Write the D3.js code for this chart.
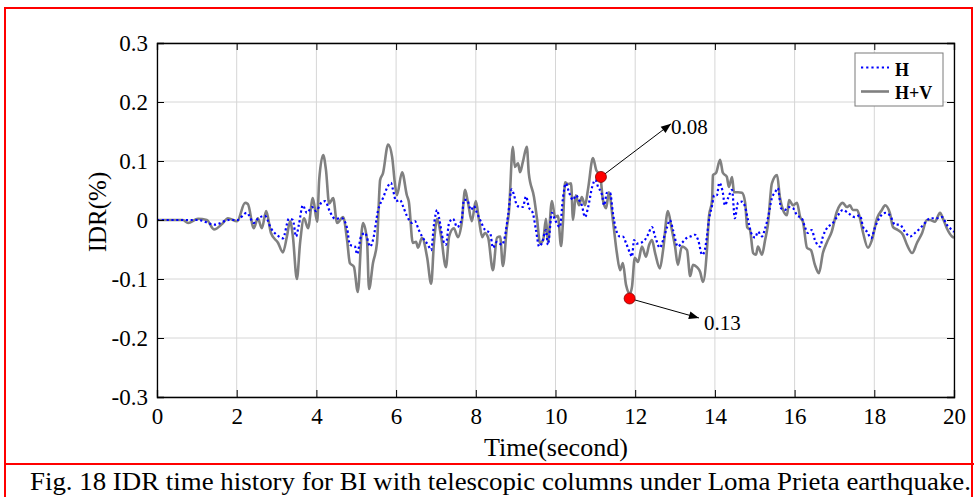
<!DOCTYPE html>
<html>
<head>
<meta charset="utf-8">
<script src="https://cdn.jsdelivr.net/npm/d3@7"></script>
<style>
  html, body { margin: 0; padding: 0; background: #fff; }
  svg { display: block; }
  text { font-family: "Liberation Serif", "Times New Roman", serif; fill: #000; }
</style>
</head>
<body>
<svg id="chart" width="974" height="497"></svg>
<script>
// ---------- data ----------
const xTicks = [0, 2, 4, 6, 8, 10, 12, 14, 16, 18, 20];
const yTicks = [-0.3, -0.2, -0.1, 0, 0.1, 0.2, 0.3];
const yTickLabels = ["-0.3", "-0.2", "-0.1", "0", "0.1", "0.2", "0.3"];
const seriesNames = ["H", "H+V"];

// H+V (gray solid)
const timeHV = [0,0.65,0.78,1.03,1.25,1.43,1.63,1.78,2.01,2.21,2.28,2.43,2.53,2.63,2.74,2.86,3.04,3.16,3.26,3.34,3.41,3.51,3.59,3.69,3.79,3.91,4.02,4.07,4.17,4.24,4.32,4.42,4.52,4.67,4.77,4.84,4.94,5.04,5.14,5.17,5.27,5.32,5.42,5.52,5.60,5.67,5.80,5.90,5.97,6.02,6.15,6.27,6.32,6.42,6.50,6.55,6.65,6.78,6.88,6.95,7.03,7.13,7.25,7.33,7.45,7.55,7.65,7.73,7.80,7.90,8.00,8.08,8.16,8.23,8.31,8.43,8.53,8.61,8.68,8.78,8.83,8.93,8.98,9.06,9.11,9.18,9.28,9.33,9.46,9.54,9.61,9.69,9.76,9.81,9.91,9.99,10.06,10.14,10.19,10.24,10.31,10.39,10.44,10.51,10.59,10.66,10.74,10.82,10.94,11.02,11.12,11.19,11.27,11.34,11.44,11.54,11.62,11.69,11.77,11.87,11.92,11.99,12.07,12.17,12.27,12.35,12.42,12.50,12.62,12.70,12.82,12.92,13.00,13.07,13.17,13.30,13.38,13.45,13.55,13.63,13.70,13.80,13.85,13.93,13.95,14.03,14.13,14.20,14.30,14.35,14.43,14.48,14.58,14.68,14.76,14.81,14.88,14.96,15.03,15.08,15.18,15.26,15.33,15.43,15.56,15.63,15.71,15.81,15.86,15.96,16.06,16.14,16.21,16.31,16.41,16.51,16.61,16.71,16.81,16.93,17.06,17.21,17.31,17.39,17.46,17.57,17.64,17.72,17.84,17.94,18.07,18.19,18.27,18.39,18.47,18.59,18.72,18.82,18.95,19.07,19.20,19.32,19.40,19.52,19.65,19.72,19.82,19.95,20];
const idrHV = [0,0,-0.005,0.002,0,-0.016,-0.007,0.003,-0.002,0.029,0.027,-0.014,0.003,-0.014,0.015,-0.022,-0.039,-0.055,-0.028,-0.002,-0.028,-0.1,-0.039,0.003,-0.014,0.037,-0.003,0.068,0.11,0.085,0.028,0.037,-0.005,0.005,-0.034,-0.073,-0.079,-0.122,-0.017,-0.005,-0.034,-0.117,-0.073,-0.039,0.068,0.079,0.128,0.107,0.062,0.042,0.081,0.042,0.031,-0.039,-0.037,-0.047,-0.03,-0.064,-0.108,-0.039,0.002,-0.028,-0.08,-0.028,-0.014,-0.029,-0.003,0.051,0.031,-0.002,0.032,0,-0.029,-0.022,-0.03,-0.085,-0.03,-0.028,-0.078,-0.012,0.012,0.124,0.09,0.096,0.081,0.098,0.124,0.079,0.039,0,-0.039,-0.034,0.002,-0.037,0.032,0.005,0.007,-0.044,0,0.064,0.061,0.062,0,0.042,0.025,0.039,0.025,0.054,0.105,0.085,0.076,0.034,0.02,0.047,0,-0.056,-0.085,-0.073,-0.11,-0.125,-0.113,-0.064,-0.071,-0.045,-0.062,-0.042,-0.034,-0.056,-0.082,-0.051,0.015,-0.017,-0.045,-0.076,-0.045,-0.051,-0.095,-0.076,-0.08,-0.088,-0.105,-0.051,0.005,0.034,0.076,0.08,0.102,0.08,0.073,0.056,0.073,0.047,0.047,0.046,0.029,-0.012,-0.017,-0.056,-0.059,-0.045,-0.059,-0.034,-0.008,0.062,0.076,0.039,0.017,0.008,0.034,0.025,0.029,0.005,-0.003,-0.047,-0.051,-0.076,-0.09,-0.056,-0.038,-0.02,0.014,0.029,0.022,0.025,0.017,0.017,0.003,-0.022,-0.047,-0.034,0.003,0.017,0.025,0.012,-0.012,-0.017,-0.025,-0.042,-0.056,-0.039,-0.022,0,0,-0.003,0.012,0.003,-0.014,-0.028,-0.03];

// H (blue dotted)
const timeH = [0,0.65,1.03,1.45,1.8,2.01,2.25,2.43,2.53,2.71,2.86,3.04,3.16,3.31,3.41,3.49,3.56,3.66,3.76,3.89,3.99,4.12,4.22,4.34,4.47,4.64,4.77,4.84,4.97,5.02,5.12,5.22,5.35,5.42,5.55,5.67,5.80,5.87,5.92,6.0,6.10,6.17,6.27,6.40,6.47,6.57,6.67,6.80,6.88,6.95,7.03,7.08,7.18,7.25,7.33,7.43,7.53,7.65,7.70,7.78,7.88,7.95,8.03,8.13,8.23,8.36,8.43,8.53,8.66,8.73,8.81,8.90,8.96,9.03,9.11,9.18,9.26,9.33,9.43,9.51,9.59,9.66,9.76,9.81,9.91,9.99,10.11,10.19,10.26,10.34,10.44,10.51,10.59,10.66,10.74,10.82,10.92,11.0,11.07,11.17,11.22,11.29,11.37,11.44,11.52,11.62,11.69,11.77,11.87,11.92,11.97,12.04,12.12,12.24,12.32,12.42,12.50,12.62,12.70,12.80,12.87,12.95,13.07,13.17,13.30,13.38,13.50,13.58,13.68,13.73,13.80,13.85,13.93,13.98,14.05,14.11,14.20,14.25,14.33,14.43,14.50,14.58,14.68,14.76,14.83,14.93,15.01,15.08,15.18,15.26,15.33,15.43,15.51,15.58,15.66,15.76,15.84,15.96,16.06,16.18,16.26,16.33,16.43,16.51,16.64,16.71,16.81,16.96,17.09,17.21,17.34,17.51,17.64,17.72,17.82,17.92,18.02,18.14,18.27,18.39,18.52,18.64,18.77,18.90,19.02,19.15,19.27,19.40,19.57,19.70,19.82,19.95,20];
const idrH = [0,0,0,-0.008,0,0,0.012,-0.005,0.002,0.007,-0.014,-0.027,-0.031,0.002,0,-0.028,-0.008,0.025,0.012,0.022,0.015,0.029,0.032,0.014,0.002,0.003,-0.014,-0.042,-0.045,-0.058,-0.028,-0.022,-0.045,-0.034,0.017,0.037,0.058,0.063,0.052,0.032,0.034,0.024,0.007,-0.005,-0.002,-0.017,-0.03,-0.042,-0.051,-0.008,0.017,0.003,-0.034,-0.042,-0.005,0.002,-0.012,0.002,0.034,0.034,0.017,0.024,0.012,-0.003,-0.017,-0.022,-0.047,-0.037,-0.042,-0.028,0.008,0.052,0.042,0.025,0.022,0.022,0.04,0.022,0.012,-0.017,-0.045,-0.039,-0.017,-0.042,0.012,0,-0.012,0.039,0.062,0.047,0.034,0.042,0.034,0.025,0.005,0.022,0.056,0.068,0.056,0.042,0.025,0.046,0.046,0.012,-0.017,-0.028,-0.028,-0.039,-0.056,-0.062,-0.034,-0.04,-0.039,-0.034,-0.025,-0.012,-0.028,-0.047,-0.034,-0.012,0,-0.017,-0.045,-0.039,-0.03,-0.028,-0.025,-0.034,-0.059,-0.055,-0.028,0,0.025,0.042,0.042,0.063,0.046,0.025,0.037,0.051,0.003,0.029,0.031,0.022,0,-0.025,-0.03,-0.02,-0.028,-0.014,0.003,0.037,0.047,0.054,0.02,0.017,0.022,0.02,0.008,0.003,-0.012,-0.022,-0.017,-0.034,-0.045,-0.028,-0.014,-0.005,0.008,0.017,0.012,0.005,0.008,-0.012,-0.02,-0.031,-0.012,0.005,0.012,0.008,-0.008,-0.008,-0.02,-0.028,-0.022,-0.014,-0.005,0.003,0.003,0.005,-0.008,-0.017,-0.02];

// annotations: marker position, label
const annotTime = [11.14, 11.86];
const annotIdr = [0.073, -0.133];
const annotLabel = ["0.08", "0.13"];
const annotTargetTime = [12.9, 13.6];
const annotTargetIdr = [0.163, -0.166];

// ---------- layout ----------
const svg = d3.select("#chart");
const L = 157, T = 43, W = 797, H = 354;
const x = d3.scaleLinear().domain([0, 20]).range([L, L + W]);
const y = d3.scaleLinear().domain([-0.3, 0.3]).range([T + H, T]);

// red frame
svg.append("rect").attr("x", 5).attr("y", 8).attr("width", 967).attr("height", 495)
  .attr("fill", "none").attr("stroke", "#ff0000").attr("stroke-width", 2);
svg.append("line").attr("x1", 5).attr("x2", 974).attr("y1", 464).attr("y2", 464)
  .attr("stroke", "#ff0000").attr("stroke-width", 2);

// grid
const g = svg.append("g");
g.selectAll(".gx").data(xTicks).enter().append("line")
  .attr("x1", d => x(d)).attr("x2", d => x(d)).attr("y1", T).attr("y2", T + H)
  .attr("stroke", "#d6d6d6").attr("stroke-width", 1);
g.selectAll(".gy").data(yTicks).enter().append("line")
  .attr("x1", L).attr("x2", L + W).attr("y1", d => y(d)).attr("y2", d => y(d))
  .attr("stroke", "#d6d6d6").attr("stroke-width", 1);

// lines
const lineGen = d3.line().x(d => x(d[0])).y(d => y(d[1])).curve(d3.curveMonotoneX);
const hvData = timeHV.map((t, i) => [t, idrHV[i]]);
const hData = timeH.map((t, i) => [t, idrH[i]]);
svg.append("path").datum(hvData).attr("d", lineGen)
  .attr("fill", "none").attr("stroke", "#808080").attr("stroke-width", 2.6).attr("stroke-linejoin", "round");
svg.append("path").datum(hData).attr("d", lineGen)
  .attr("fill", "none").attr("stroke", "#0000ff").attr("stroke-width", 2.2).attr("stroke-dasharray", "2.2,2.6");

// axes
const fmtY = d => yTickLabels[yTicks.findIndex(v => Math.abs(v - d) < 1e-9)];
const xAxis = d3.axisBottom(x).tickValues(xTicks).tickSize(-7).tickPadding(11).tickFormat(d3.format("d"));
const yAxis = d3.axisLeft(y).tickValues(yTicks).tickSize(-7).tickPadding(9).tickFormat(fmtY);
const xAxisTop = d3.axisTop(x).tickValues(xTicks).tickSize(-7).tickFormat("");
const yAxisRight = d3.axisRight(y).tickValues(yTicks).tickSize(-7).tickFormat("");

function styleAxis(sel) {
  sel.select(".domain").attr("stroke", "#000").attr("stroke-width", 1.3);
  sel.selectAll(".tick line").attr("stroke", "#000").attr("stroke-width", 1);
  sel.selectAll(".tick text").style("font-family", "'Liberation Serif', serif").style("font-size", "23px").attr("fill", "#000");
}
svg.append("g").attr("transform", `translate(0,${T + H})`).call(xAxis).call(styleAxis);
svg.append("g").attr("transform", `translate(${L},0)`).call(yAxis).call(styleAxis);
svg.append("g").attr("transform", `translate(0,${T})`).call(xAxisTop).call(styleAxis);
svg.append("g").attr("transform", `translate(${L + W},0)`).call(yAxisRight).call(styleAxis);

// axis labels
svg.append("text").attr("x", 556).attr("y", 456).attr("text-anchor", "middle")
  .style("font-size", "25px").attr("textLength", 144).attr("lengthAdjust", "spacingAndGlyphs").text("Time(second)");
svg.append("text").attr("transform", "translate(106,212) rotate(-90)").attr("text-anchor", "middle")
  .style("font-size", "25px").text("IDR(%)");

// annotations
annotTime.forEach((t, i) => {
  const x0 = x(t), y0 = y(annotIdr[i]);
  const x1 = x(annotTargetTime[i]), y1 = y(annotTargetIdr[i]);
  const ang = Math.atan2(y1 - y0, x1 - x0);
  svg.append("line").attr("x1", x0).attr("y1", y0).attr("x2", x1).attr("y2", y1)
    .attr("stroke", "#000").attr("stroke-width", 1);
  const ah = 10, aw = 4;
  const bx = x1 - ah * Math.cos(ang), by = y1 - ah * Math.sin(ang);
  const pts = [[x1, y1], [bx - aw * Math.sin(ang), by + aw * Math.cos(ang)], [bx + aw * Math.sin(ang), by - aw * Math.cos(ang)]];
  svg.append("polygon").attr("points", pts.map(p => p.join(",")).join(" ")).attr("fill", "#000");
  svg.append("circle").attr("cx", x0).attr("cy", y0).attr("r", 5.5)
    .attr("fill", "#ff0000").attr("stroke", "#800000").attr("stroke-width", 0.8);
  svg.append("text").attr("x", x1 + (i === 0 ? 0 : 5)).attr("y", y1 + (i === 0 ? 10 : 12))
    .style("font-size", "21px").text(annotLabel[i]);
});

// legend
const lg = svg.append("g");
lg.append("rect").attr("x", 855).attr("y", 53).attr("width", 88).attr("height", 53)
  .attr("fill", "#fff").attr("stroke", "#7a7a7a").attr("stroke-width", 1);
lg.append("line").attr("x1", 861).attr("x2", 889).attr("y1", 67.5).attr("y2", 67.5)
  .attr("stroke", "#0000ff").attr("stroke-width", 2.2).attr("stroke-dasharray", "2.2,3");
lg.append("line").attr("x1", 861).attr("x2", 889).attr("y1", 91.5).attr("y2", 91.5)
  .attr("stroke", "#808080").attr("stroke-width", 2.6);
lg.append("text").attr("x", 895).attr("y", 75.5).style("font-size", "18px").style("font-weight", "bold").text(seriesNames[0]);
lg.append("text").attr("x", 895).attr("y", 99).style("font-size", "18px").style("font-weight", "bold").text(seriesNames[1]);

// caption
svg.append("text").attr("x", 30).attr("y", 490).style("font-size", "26px")
  .attr("textLength", 941).attr("lengthAdjust", "spacingAndGlyphs")
  .text("Fig. 18 IDR time history for BI with telescopic columns under Loma Prieta earthquake.");
</script>
</body>
</html>
